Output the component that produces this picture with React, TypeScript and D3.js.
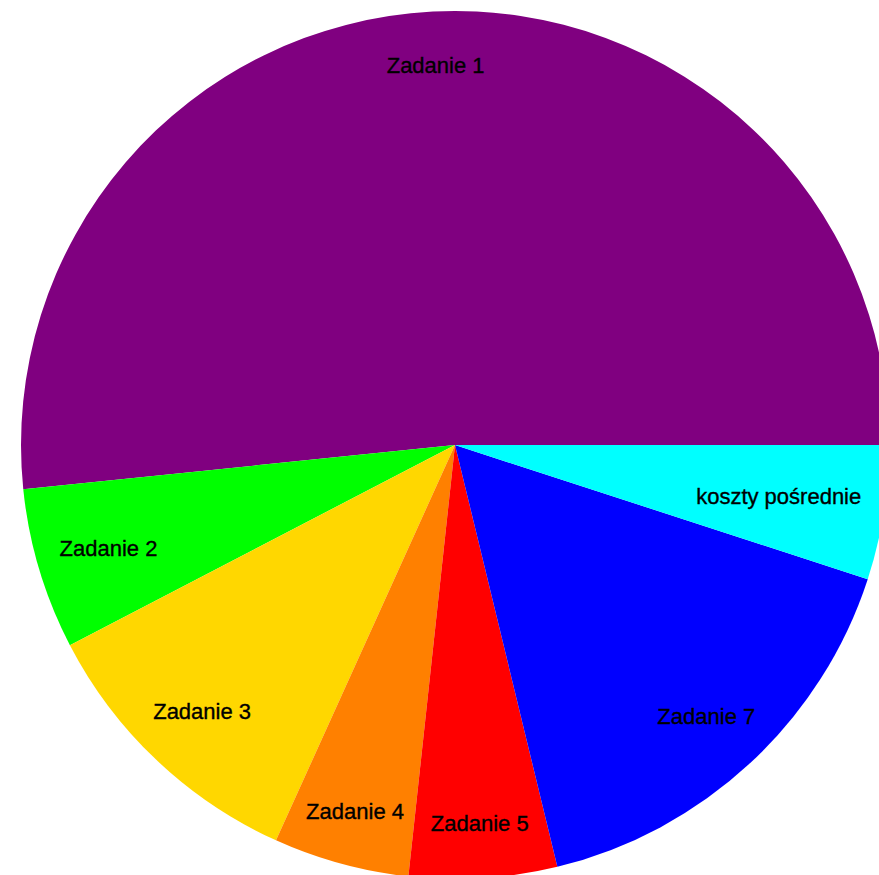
import React, { useRef, useEffect } from 'react';
import * as d3 from 'd3';

// slice labels, in drawing order (counterclockwise from 3 o'clock)
const labels = ['Zadanie 1', 'Zadanie 2', 'Zadanie 3', 'Zadanie 4', 'Zadanie 5', 'Zadanie 7', 'koszty pośrednie'];
// share of total, in percent
const shares = [51.6, 6.0, 10.6, 5.05, 5.5, 16.2, 5.0];
const colors = ['#800080', '#00ff00', '#ffd700', '#ff8000', '#ff0000', '#0000ff', '#00ffff'];

const W = 879;
const H = 875;

const App = () => {
    const ref = useRef(null);

    useEffect(() => {
        const svg = d3.select(ref.current);
        svg.selectAll('*').remove();

        const cx = 455, cy = 445, R = 434;
        const data = labels.map((l, i) => ({ label: l, value: shares[i], color: colors[i] }));

        // start at 3 o'clock and go counterclockwise
        const pie = d3.pie().value(d => d.value).sort(null)
            .startAngle(Math.PI / 2)
            .endAngle(Math.PI / 2 - 2 * Math.PI);
        const arcs = pie(data);
        const arc = d3.arc().innerRadius(0).outerRadius(R);

        const g = svg.append('g').attr('transform', `translate(${cx},${cy})`);

        g.selectAll('path')
            .data(arcs)
            .enter()
            .append('path')
            .attr('d', arc)
            .style('fill', d => d.data.color);

        const text = g.selectAll('text')
            .data(arcs)
            .enter()
            .append('text')
            .text(d => d.data.label)
            .attr('text-anchor', 'middle')
            .attr('dominant-baseline', 'central')
            .attr('font-family', '"Liberation Sans", Arial, sans-serif')
            .attr('font-size', 22)
            .attr('fill', 'black')
            .attr('stroke', 'black')
            .attr('stroke-width', 0.35);

        // place labels along the mid angle, pulled in so the box stays inside the pie
        text.each(function (d) {
            const w = this.getComputedTextLength();
            const h = 22;
            const a = (d.startAngle + d.endAngle) / 2;
            const ux = Math.sin(a), uy = -Math.cos(a);
            let r = 0.875 * R;
            const lim = 0.95 * R;
            for (; r > 0.3 * R; r -= 2) {
                const x = r * ux, y = r * uy;
                const fx = Math.abs(x) + w / 2, fy = Math.abs(y) + h / 2;
                if (Math.hypot(fx, fy) <= lim) break;
            }
            d3.select(this).attr('x', r * ux).attr('y', r * uy);
        });
    }, []);

    return (
        <svg ref={ref} width={W} height={H}
            style={{ position: 'absolute', left: 0, top: 0, background: 'white' }} />
    );
};

export default App;
